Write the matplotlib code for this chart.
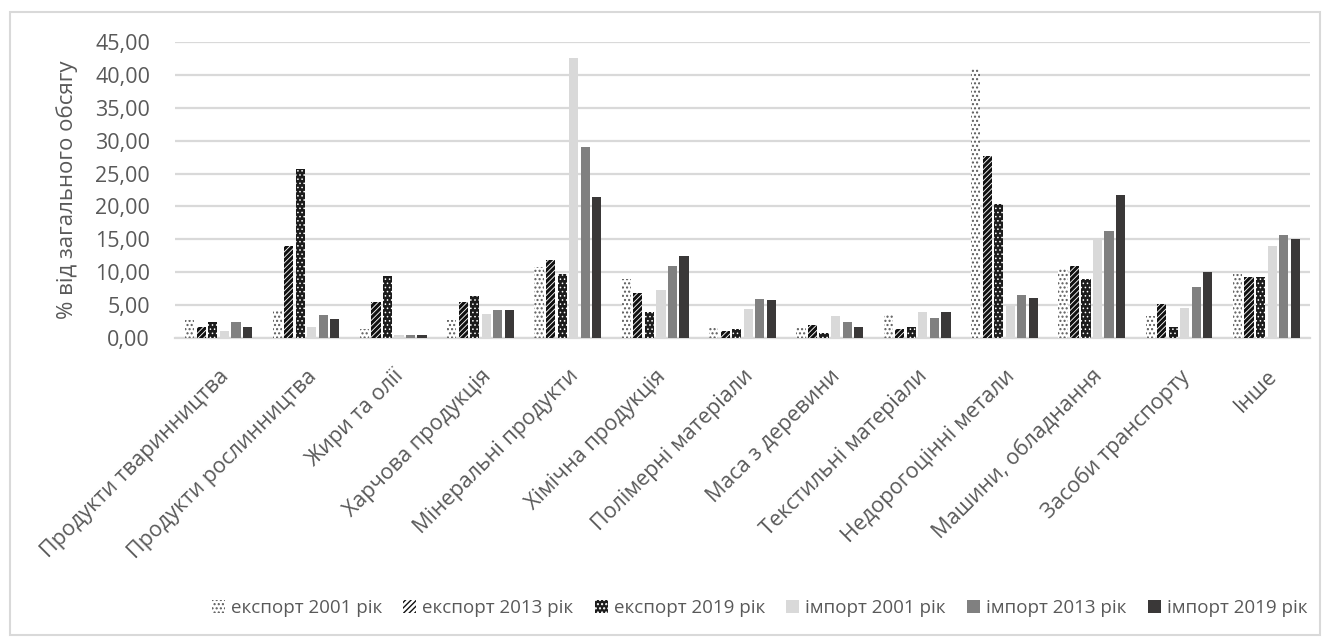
import numpy as np
import matplotlib
matplotlib.use("Agg")
import matplotlib.pyplot as plt
from matplotlib.patches import Rectangle, Patch
from matplotlib.ticker import FuncFormatter

plt.rcParams["font.family"] = ["Open Sans", "DejaVu Sans"]

categories = [
    "Продукти тваринництва", "Продукти рослинництва", "Жири та олії",
    "Харчова продукція", "Мінеральні продукти", "Хімічна продукція",
    "Полімерні матеріали", "Маса з деревини", "Текстильні матеріали",
    "Недорогоцінні метали", "Машини, обладнання", "Засоби транспорту", "Інше",
]

export_2001 = [2.7, 4.3, 1.4, 2.7, 10.8, 9.0, 1.5, 1.7, 3.7, 41.1, 10.5, 3.4, 9.8]
export_2013 = [1.6, 14.0, 5.5, 5.5, 11.8, 6.9, 1.1, 2.0, 1.3, 27.6, 11.0, 5.2, 9.2]
export_2019 = [2.5, 25.7, 9.4, 6.4, 9.8, 4.0, 1.3, 0.8, 1.6, 20.3, 8.9, 1.7, 9.3]
import_2001 = [1.1, 1.6, 0.5, 3.7, 42.5, 7.3, 4.4, 3.4, 4.0, 5.2, 15.0, 4.6, 14.0]
import_2013 = [2.5, 3.5, 0.5, 4.2, 29.0, 11.0, 6.0, 2.5, 3.1, 6.5, 16.2, 7.7, 15.6]
import_2019 = [1.7, 2.9, 0.4, 4.3, 21.4, 12.4, 5.8, 1.6, 3.9, 6.1, 21.8, 10.1, 15.0]

series_labels = ["експорт 2001 рік", "експорт 2013 рік", "експорт 2019 рік",
                 "імпорт 2001 рік", "імпорт 2013 рік", "імпорт 2019 рік"]
series_values = [export_2001, export_2013, export_2019,
                 import_2001, import_2013, import_2019]

# face colour, hatch colour, hatch pattern, hatch line width per series
styles = [
    ("white", "#5a5a5a", "....", 1.0),
    ("white", "#111111", "//////", 2.2),
    ("#1c1c1c", "white", "....", 0.6),
    ("#d9d9d9", "#d9d9d9", None, 1.0),
    ("#808080", "#808080", None, 1.0),
    ("#3a3838", "#3a3838", None, 1.0),
]

text_color = "#595959"
grid_color = "#d9d9d9"

fig = plt.figure(figsize=(13.3, 6.41), dpi=100)
fig.patches.append(Rectangle((10 / 1330, 6 / 641), 1310 / 1330, 623 / 641,
                             transform=fig.transFigure, fill=False,
                             edgecolor=grid_color, linewidth=1.5))

ax = fig.add_axes([175 / 1330, 1 - 338 / 641, 1135 / 1330, 296 / 641])

x = np.arange(len(categories))
slot = 0.132
bar_w = 0.105
handles = []
for i, (label, vals) in enumerate(zip(series_labels, series_values)):
    face, hcol, hatch, hlw = styles[i]
    offs = (i - 2.5) * slot
    with plt.rc_context({"hatch.linewidth": hlw}):
        ax.bar(x + offs, vals, width=bar_w, color=face, edgecolor=hcol,
               hatch=hatch, linewidth=0, zorder=3)
        handles.append(Patch(facecolor=face, edgecolor=hcol, hatch=hatch,
                             linewidth=0, label=label))

ax.set_xlim(-0.5, len(categories) - 0.5)
ax.set_ylim(0, 45)
ax.set_yticks(np.arange(0, 46, 5))
ax.yaxis.set_major_formatter(FuncFormatter(lambda v, _: f"{v:.2f}".replace(".", ",")))
ax.grid(axis="y", color=grid_color, linewidth=1.6, zorder=0)
ax.set_axisbelow(True)
for side in ("top", "right", "left"):
    ax.spines[side].set_visible(False)
ax.spines["bottom"].set_color(grid_color)
ax.spines["bottom"].set_linewidth(1.6)
ax.tick_params(axis="both", length=0, labelsize=15.5, colors=text_color)
ax.tick_params(axis="y", pad=18)
ax.tick_params(axis="x", pad=20)

ax.set_xticks(x)
ax.set_xticklabels(categories, rotation=45, ha="right", rotation_mode="anchor")
ax.set_ylabel("% від загального обсягу", fontsize=16, color=text_color, labelpad=12)

fig.legend(handles=handles, loc="center", bbox_to_anchor=(0.571, 1 - 608 / 641),
           ncol=6, frameon=False, fontsize=13.5, labelcolor=text_color,
           handlelength=0.7, handleheight=0.7, handletextpad=0.3,
           columnspacing=1.15)

fig.savefig("out.png", dpi=100)
